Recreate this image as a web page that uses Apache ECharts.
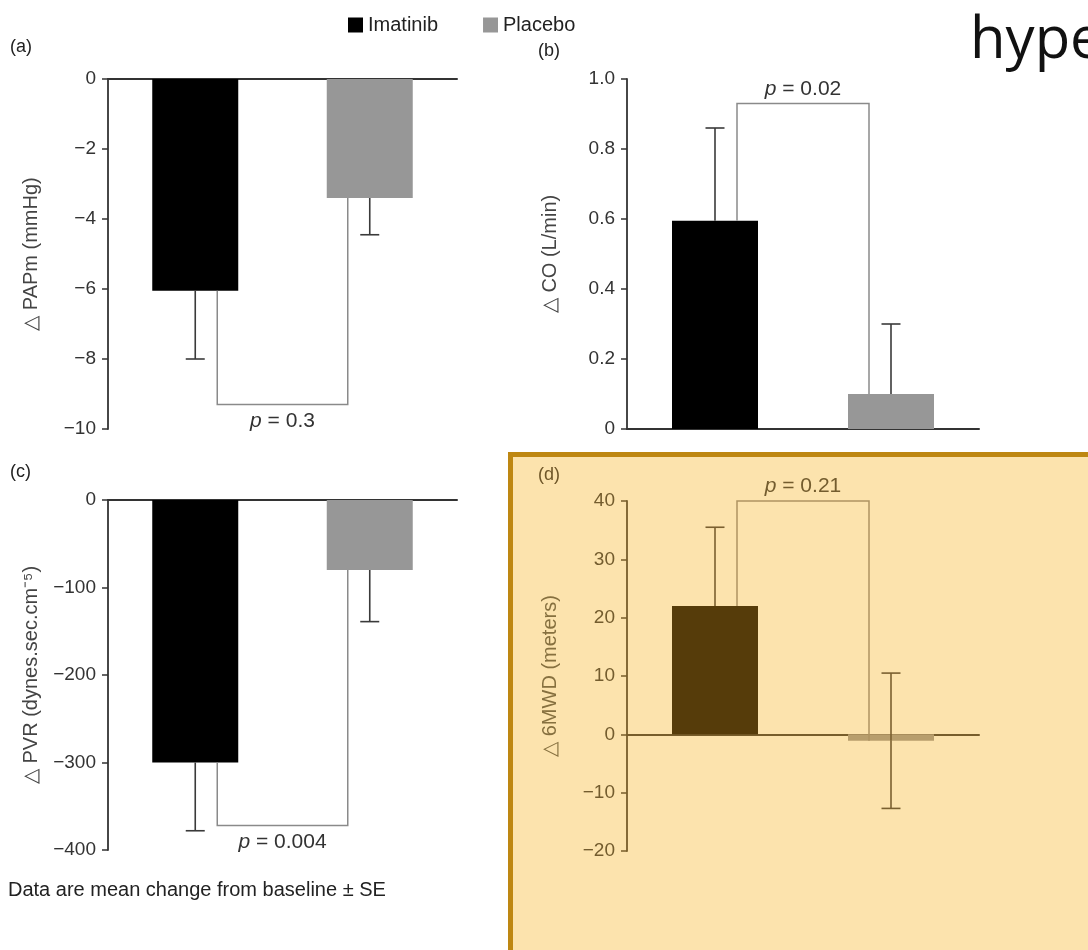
<!DOCTYPE html>
<html>
<head>
<meta charset="utf-8">
<script src="https://cdn.jsdelivr.net/npm/echarts@6/dist/echarts.min.js"></script>
<style>html,body{margin:0;padding:0;background:#fff;}#main{width:1088px;height:950px;}</style>
</head>
<body>
<div id="main"></div>
<script>
// ---- data ----
const categories = ['Imatinib', 'Placebo'];
const panelLabels = ['(a)', '(b)', '(c)', '(d)'];
const yNames = ['△ PAPm (mmHg)', '△ CO (L/min)', '△ PVR (dynes.sec.cm⁻⁵)', '△ 6MWD (meters)'];
const yMin = [-10, 0, -400, -20];
const yMax = [0, 1, 0, 40];
const yInterval = [2, 0.2, 100, 10];
const imatinibMean = [-6.05, 0.595, -300, 22];
const placeboMean = [-3.4, 0.1, -80, -1.1];
const imatinibTips = [[-8], [0.86], [-378], [35.5]];
const placeboTips = [[-4.45], [0.3], [-139], [10.5, -12.7]];
const bracketLevel = [-9.3, 0.93, -372, 40];
const pValues = ['0.3', '0.02', '0.004', '0.21'];
const footnote = 'Data are mean change from baseline ± SE';

// ---- layout / style ----
const FONT = 'Liberation Sans';
const grids = [
  {left: 108, top: 79, width: 349, height: 350},
  {left: 627, top: 79, width: 352, height: 350},
  {left: 108, top: 500, width: 349, height: 350},
  {left: 627, top: 501, width: 352, height: 350}
];
const pSide = ['below', 'above', 'below', 'above'];
const normalTheme = {imatinib: '#000000', placebo: '#979797', axis: '#333333', text: '#333333', name: '#444444', err: '#3a3a3a', bracket: '#8a8a8a'};
const tintTheme = {imatinib: '#563C0A', placebo: '#B89E6C', axis: '#775D2B', text: '#735c2e', name: '#86703f', err: '#7a6030', bracket: '#AE9462'};
const themes = [normalTheme, normalTheme, normalTheme, tintTheme];

function fmt(i) {
  return function (v) {
    let s;
    if (i === 1) s = v === 0 ? '0' : v.toFixed(1);
    else s = String(Math.round(v));
    return s.replace('-', '−');
  };
}

const xAxes = [], yAxes = [], series = [];
for (let i = 0; i < 4; i++) {
  const th = themes[i];
  xAxes.push({
    type: 'category', gridIndex: i, data: categories,
    axisLine: {show: true, onZero: true, lineStyle: {color: th.axis, width: 2}},
    axisTick: {show: false}, axisLabel: {show: false}, splitLine: {show: false}
  });
  yAxes.push({
    type: 'value', gridIndex: i, min: yMin[i], max: yMax[i], interval: yInterval[i],
    name: yNames[i], nameLocation: 'middle', nameGap: 67,
    nameTextStyle: {fontFamily: FONT, fontSize: 20, color: th.name},
    axisLine: {show: true, lineStyle: {color: th.axis, width: 1.8}},
    axisTick: {show: true, length: 6, lineStyle: {color: th.axis, width: 1.5}},
    axisLabel: {fontFamily: FONT, fontSize: 19, color: th.text, margin: 12, formatter: fmt(i)},
    splitLine: {show: false}
  });
  series.push({
    name: 'Imatinib', type: 'bar', xAxisIndex: i, yAxisIndex: i,
    data: [imatinibMean[i], '-'], barWidth: 86, barGap: '-100%',
    itemStyle: {color: th.imatinib}, emphasis: {disabled: true}
  });
  series.push({
    name: 'Placebo', type: 'bar', xAxisIndex: i, yAxisIndex: i,
    data: ['-', placeboMean[i]], barWidth: 86, barGap: '-100%',
    itemStyle: {color: th.placebo}, emphasis: {disabled: true}
  });
  const errData = [];
  imatinibTips[i].forEach(t => errData.push([0, imatinibMean[i], t]));
  placeboTips[i].forEach(t => errData.push([1, placeboMean[i], t]));
  series.push({
    type: 'custom', xAxisIndex: i, yAxisIndex: i, z: 3, silent: true,
    encode: {x: 0, y: [1, 2]},
    data: errData,
    renderItem: function (params, api) {
      const p0 = api.coord([api.value(0), api.value(1)]);
      const p1 = api.coord([api.value(0), api.value(2)]);
      const st = {stroke: th.err, lineWidth: 1.6};
      return {type: 'group', children: [
        {type: 'line', shape: {x1: p0[0], y1: p0[1], x2: p1[0], y2: p1[1]}, style: st},
        {type: 'line', shape: {x1: p1[0] - 9.5, y1: p1[1], x2: p1[0] + 9.5, y2: p1[1]}, style: st}
      ]};
    }
  });
  series.push({
    type: 'custom', xAxisIndex: i, yAxisIndex: i, z: 3, silent: true,
    encode: {x: [0, 1], y: [2, 3, 4]},
    data: [[0, 1, imatinibMean[i], placeboMean[i], bracketLevel[i]]],
    renderItem: function (params, api) {
      const a = api.coord([api.value(0), api.value(2)]);
      const b = api.coord([api.value(1), api.value(3)]);
      const L = api.coord([api.value(0), api.value(4)]);
      const xa = a[0] + 22, xb = b[0] - 22, yl = L[1];
      const below = pSide[i] === 'below';
      return {type: 'group', children: [
        {type: 'polyline', shape: {points: [[xa, a[1]], [xa, yl], [xb, yl], [xb, b[1]]]},
          style: {stroke: th.bracket, lineWidth: 1.5, fill: null}},
        {type: 'text', x: (xa + xb) / 2, y: below ? yl + 6 : yl - 4,
          style: {text: '{i|p} = ' + pValues[i], fill: th.text, fontSize: 21, fontFamily: FONT,
            align: 'center', verticalAlign: below ? 'top' : 'bottom',
            rich: {i: {fontStyle: 'italic', fontSize: 21, fontFamily: FONT, fill: th.text}}}}
      ]};
    }
  });
}

const labelPos = [[10, 38], [538, 42], [10, 463], [538, 466]];
const graphics = [
  {type: 'rect', z: -10, shape: {x: 510.5, y: 454.5, width: 620, height: 540},
    style: {fill: '#FCE3AD', stroke: '#BE8712', lineWidth: 5}},
  {type: 'text', x: 8, y: 880, style: {text: footnote, fontFamily: FONT, fontSize: 20, fill: '#222'}},
  {type: 'text', x: 970, y: 12, style: {text: 'hype', fontFamily: 'Open Sans', fontSize: 58, fill: '#111'}}
];
panelLabels.forEach((t, i) => {
  graphics.push({type: 'text', x: labelPos[i][0], y: labelPos[i][1],
    style: {text: t, fontFamily: FONT, fontSize: 18, fill: themes[i] === tintTheme ? '#6e5628' : '#222'}});
});

const chart = echarts.init(document.getElementById('main'), null, {renderer: 'canvas'});
chart.setOption({
  animation: false,
  backgroundColor: '#ffffff',
  textStyle: {fontFamily: FONT},
  legend: {
    data: categories, left: 343, top: 10, itemWidth: 15, itemHeight: 15, itemGap: 45,
    icon: 'rect', textStyle: {fontFamily: FONT, fontSize: 20, color: '#222'}, selectedMode: false
  },
  grid: grids,
  xAxis: xAxes,
  yAxis: yAxes,
  series: series,
  graphic: graphics
});
</script>
</body>
</html>
